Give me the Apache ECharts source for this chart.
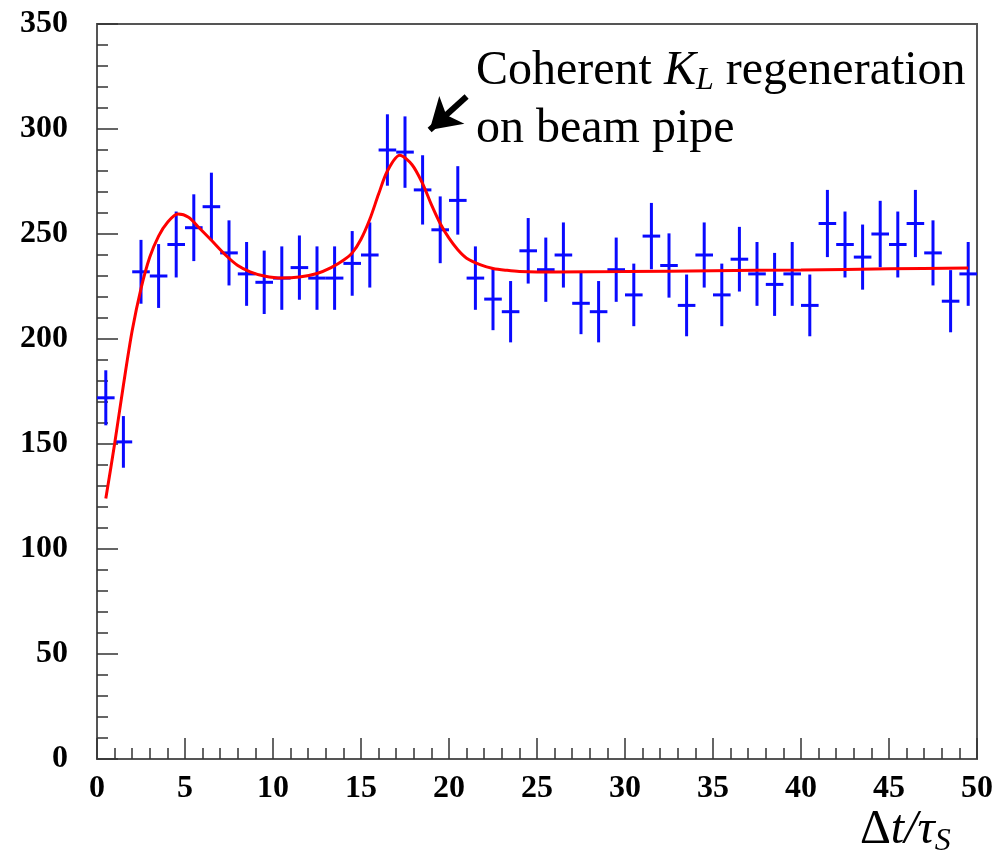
<!DOCTYPE html>
<html>
<head>
<meta charset="utf-8">
<script src="https://cdn.jsdelivr.net/npm/echarts@6/dist/echarts.min.js"></script>
<style>
  html, body { margin: 0; padding: 0; background: #fff; }
  #chart { width: 997px; height: 862px; }
</style>
</head>
<body>
<div id="chart"></div>
<script>
// Histogram bin centres (Δt/τS), bin width 1
const binCenters = [
  0.5, 1.5, 2.5, 3.5, 4.5, 5.5, 6.5, 7.5, 8.5, 9.5,
  10.5, 11.5, 12.5, 13.5, 14.5, 15.5, 16.5, 17.5, 18.5, 19.5,
  20.5, 21.5, 22.5, 23.5, 24.5, 25.5, 26.5, 27.5, 28.5, 29.5,
  30.5, 31.5, 32.5, 33.5, 34.5, 35.5, 36.5, 37.5, 38.5, 39.5,
  40.5, 41.5, 42.5, 43.5, 44.5, 45.5, 46.5, 47.5, 48.5, 49.5
];
// Events per bin
const counts = [
  172, 151, 232, 230, 245, 253, 263, 241, 231, 227,
  229, 234, 229, 229, 236, 240, 290, 289, 271, 252,
  266, 229, 219, 213, 242, 233, 240, 217, 213, 233,
  221, 249, 235, 216, 240, 221, 238, 231, 226, 231,
  216, 255, 245, 239, 250, 245, 255, 241, 218, 231
];
// Statistical error per bin
const errors = [
  13.1, 12.3, 15.2, 15.2, 15.7, 15.9, 16.2, 15.5, 15.2, 15.1,
  15.1, 15.3, 15.1, 15.1, 15.4, 15.5, 17.0, 17.0, 16.5, 15.9,
  16.3, 15.1, 14.8, 14.6, 15.6, 15.3, 15.5, 14.7, 14.6, 15.3,
  14.9, 15.8, 15.3, 14.7, 15.5, 14.9, 15.4, 15.2, 15.0, 15.2,
  14.7, 16.0, 15.7, 15.5, 15.8, 15.7, 16.0, 15.5, 14.8, 15.2
];
// Fit curve samples
const fitX = [
  0.5, 1.0, 1.5, 2.0, 2.5, 3.0, 3.5, 4.0, 4.6, 5.2,
  5.8, 6.5, 7.3, 8.0, 8.7, 9.5, 10.5, 11.5, 12.5, 13.3,
  14.0, 14.5, 15.0, 15.5, 16.0, 16.5, 17.2, 17.9, 18.5, 19.0,
  19.5, 20.0, 20.5, 21.0, 21.8, 22.5, 23.3, 24.0, 26.0, 30.0,
  35.0, 40.0, 45.0, 49.5
];
const fitY = [
  124, 150, 178, 204, 224, 239, 249, 255.5, 259.5, 258,
  253, 247, 240, 235, 232, 230, 229, 229.5, 231.2, 234,
  237.5, 241, 247.5, 257, 269, 280, 287.5, 283, 274, 264,
  255, 248, 242.5, 238.5, 235.3, 233.6, 232.7, 232.2, 231.9, 232.1,
  232.5, 232.9, 233.4, 233.8
];
// Axis ticks
const xTicks = [0, 5, 10, 15, 20, 25, 30, 35, 40, 45, 50];
const yTicks = [0, 50, 100, 150, 200, 250, 300, 350];
// Annotation arrow (data coordinates): tail, head
const arrowFrom = [21.0, 315.5];
const arrowTo = [18.9, 299.5];

const points = binCenters.map((x, i) => [x, counts[i], errors[i]]);
const fitLine = fitX.map((x, i) => [x, fitY[i]]);

const labelFont = {
  fontFamily: 'Liberation Serif',
  fontWeight: 'bold',
  fontSize: 32,
  color: '#000'
};
const serif = 'Liberation Serif';

const chart = echarts.init(document.getElementById('chart'));
chart.setOption({
  animation: false,
  backgroundColor: '#fff',
  grid: {
    left: 97, right: 20, top: 24, bottom: 103,
    show: true, borderColor: '#555', borderWidth: 2
  },
  xAxis: {
    type: 'value',
    min: xTicks[0], max: xTicks[xTicks.length - 1], interval: 5,
    axisLine: { show: true, onZero: false, lineStyle: { color: '#555', width: 2 } },
    axisTick: { show: true, inside: true, length: 21, lineStyle: { color: '#333', width: 1.5 } },
    minorTick: { show: true, splitNumber: 5, length: 11, lineStyle: { color: '#333', width: 1.5 } },
    splitLine: { show: false },
    axisLabel: Object.assign({ margin: 14 }, labelFont)
  },
  yAxis: {
    type: 'value',
    min: yTicks[0], max: yTicks[yTicks.length - 1], interval: 50,
    axisLine: { show: true, onZero: false, lineStyle: { color: '#555', width: 2 } },
    axisTick: { show: true, inside: true, length: 21, lineStyle: { color: '#333', width: 1.5 } },
    minorTick: { show: true, splitNumber: 5, length: 11, lineStyle: { color: '#333', width: 1.5 } },
    splitLine: { show: false },
    axisLabel: Object.assign({ margin: 29, showMaxLabel: true, showMinLabel: true }, labelFont)
  },
  series: [
    {
      name: 'data',
      type: 'custom',
      data: points,
      encode: { x: 0, y: 1 },
      z: 3,
      renderItem: function (params, api) {
        const x = api.value(0), y = api.value(1), e = api.value(2);
        const left = api.coord([x - 0.5, y]);
        const right = api.coord([x + 0.5, y]);
        const top = api.coord([x, y + e]);
        const bottom = api.coord([x, y - e]);
        const style = { stroke: '#0a0aff', lineWidth: 3 };
        return {
          type: 'group',
          children: [
            { type: 'line', shape: { x1: left[0], y1: left[1], x2: right[0], y2: right[1] }, style: style },
            { type: 'line', shape: { x1: top[0], y1: top[1], x2: bottom[0], y2: bottom[1] }, style: style }
          ]
        };
      }
    },
    {
      name: 'fit',
      type: 'line',
      data: fitLine,
      smooth: 0.3,
      showSymbol: false,
      z: 4,
      lineStyle: { color: '#ff0000', width: 3 },
      markLine: {
        silent: true,
        symbol: ['none', 'arrow'],
        symbolSize: [28, 30],
        label: { show: false },
        lineStyle: { color: '#000', width: 6, type: 'solid' },
        data: [[{ coord: arrowFrom }, { coord: arrowTo }]]
      }
    }
  ],
  graphic: [
    {
      type: 'text', left: 476, top: 47,
      style: {
        text: 'Coherent {k|K}{s|L} regeneration',
        font: '48px "' + serif + '"', fill: '#000',
        rich: {
          k: { fontFamily: serif, fontStyle: 'italic', fontSize: 48 },
          s: { fontFamily: serif, fontStyle: 'italic', fontSize: 32, verticalAlign: 'bottom', padding: [20, 0, 0, 0] }
        }
      }
    },
    {
      type: 'text', left: 476, top: 105,
      style: { text: 'on beam pipe', font: '48px "' + serif + '"', fill: '#000' }
    },
    {
      type: 'text', left: 860, top: 806,
      style: {
        text: 'Δ{i|t/τ}{s|S}',
        font: '48px "' + serif + '"', fill: '#000',
        rich: {
          i: { fontFamily: serif, fontStyle: 'italic', fontSize: 48 },
          s: { fontFamily: serif, fontStyle: 'italic', fontSize: 32, padding: [24, 0, 0, 0] }
        }
      }
    }
  ]
});
</script>
</body>
</html>
